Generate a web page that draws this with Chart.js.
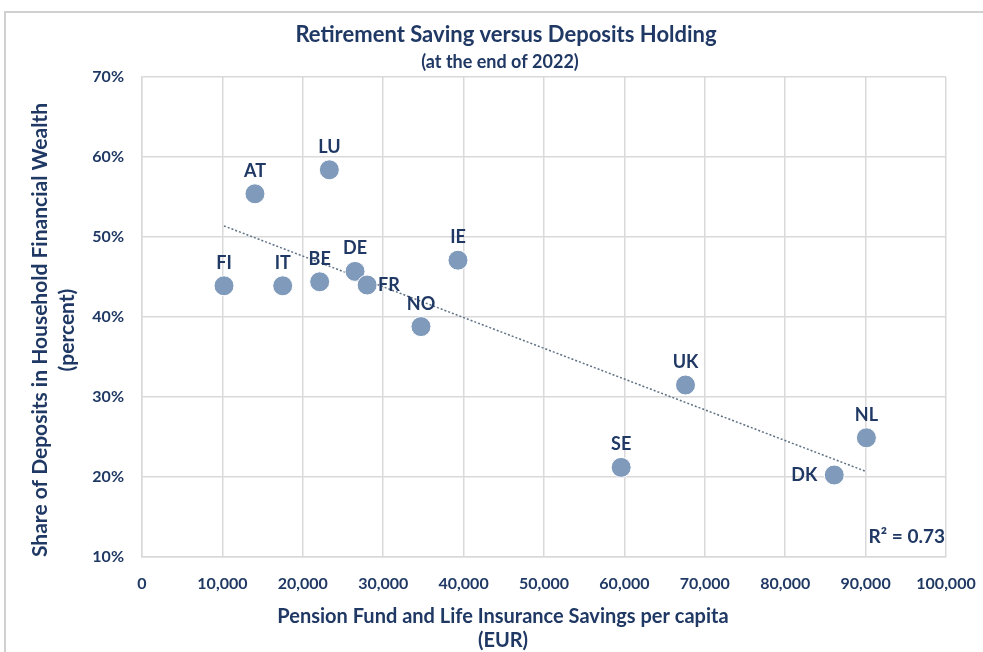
<!DOCTYPE html>
<html>
<head>
<meta charset="utf-8">
<script src="https://cdn.jsdelivr.net/npm/chart.js@4/dist/chart.umd.min.js"></script>
<style>
  html, body { margin: 0; padding: 0; background: #ffffff; }
  #frame { position: absolute; left: 4px; top: 11px; width: 1000px; height: 660px; border-left: 2px solid #d0d0d0; border-top: 2px solid #d0d0d0; box-sizing: border-box; }
  #wrap { position: absolute; left: 0; top: 0; width: 983px; height: 652px; }
</style>
</head>
<body>
<div id="frame"></div>
<div id="wrap"><canvas id="c" width="983" height="652"></canvas></div>
<script>
// ---- data ----
const countries = ["FI", "AT", "IT", "BE", "LU", "DE", "FR", "NO", "IE", "SE", "UK", "DK", "NL"];
const pensionSavings = [10200, 14050, 17500, 22100, 23300, 26500, 28000, 34700, 39300, 59600, 67600, 86100, 90100];
const depositShare = [43.9, 55.4, 43.9, 44.4, 58.4, 45.7, 44.0, 38.8, 47.1, 21.2, 31.5, 20.25, 24.9];
const labelSide = ["top", "top", "top", "top", "top", "top", "right", "top", "top", "top", "top", "left", "top"];
const xTicks = [0, 10000, 20000, 30000, 40000, 50000, 60000, 70000, 80000, 90000, 100000];
const yTicks = [10, 20, 30, 40, 50, 60, 70];
const chartTitle = "Retirement Saving versus Deposits Holding";
const chartSubtitle = "(at the end of 2022)";
const xTitle = ["Pension Fund and Life Insurance Savings per capita", "(EUR)"];
const yTitle = ["Share of Deposits in Household Financial Wealth", "(percent)"];
const rSquaredLabel = "R² = 0.73";

// linear least-squares trend line from the data
const n = pensionSavings.length;
const mx = pensionSavings.reduce((a, b) => a + b, 0) / n;
const my = depositShare.reduce((a, b) => a + b, 0) / n;
let sxy = 0, sxx = 0;
for (let i = 0; i < n; i++) { sxy += (pensionSavings[i] - mx) * (depositShare[i] - my); sxx += (pensionSavings[i] - mx) ** 2; }
const slope = sxy / sxx, intercept = my - slope * mx;
const xMin = Math.min(...pensionSavings), xMax = Math.max(...pensionSavings);
const trend = [{ x: xMin, y: intercept + slope * xMin }, { x: xMax, y: intercept + slope * xMax }];

const NAVY = "#1f3864";
const FONT = "Lato, 'Open Sans', sans-serif";

const labelPlugin = {
  id: "pointLabels",
  afterDatasetsDraw(chart) {
    const ctx = chart.ctx;
    const meta = chart.getDatasetMeta(1);
    ctx.save();
    ctx.fillStyle = NAVY;
    ctx.font = "bold 18px " + FONT;
    meta.data.forEach((pt, i) => {
      const side = labelSide[i];
      if (side === "top") { ctx.textAlign = "center"; ctx.textBaseline = "alphabetic"; ctx.fillText(countries[i], pt.x, pt.y - 17); }
      else if (side === "right") { ctx.textAlign = "left"; ctx.textBaseline = "middle"; ctx.fillText(countries[i], pt.x + 11, pt.y); }
      else { ctx.textAlign = "right"; ctx.textBaseline = "middle"; ctx.fillText(countries[i], pt.x - 17, pt.y); }
    });
    // R squared
    const a = chart.chartArea;
    ctx.textAlign = "right"; ctx.textBaseline = "alphabetic";
    ctx.font = "bold 19px " + FONT;
    ctx.fillText(rSquaredLabel, a.right - 1, a.bottom - 14);
    // chart titles
    ctx.textAlign = "center"; ctx.textBaseline = "middle";
    ctx.font = "bold 22px " + FONT;
    ctx.fillText(chartTitle, 506, 35);
    ctx.font = "bold 18px " + FONT;
    ctx.fillText(chartSubtitle, 500, 62);
    // x axis title
    ctx.font = "bold 20px " + FONT;
    ctx.fillText(xTitle[0], 503, 617);
    ctx.fillText(xTitle[1], 503, 641);
    // y axis title
    ctx.translate(0, 330);
    ctx.rotate(-Math.PI / 2);
    ctx.font = "bold 21px " + FONT;
    ctx.fillText(yTitle[0], 0, 40);
    ctx.fillText(yTitle[1], 0, 67);
    ctx.restore();
  }
};

new Chart(document.getElementById("c"), {
  type: "scatter",
  data: {
    datasets: [
      {
        type: "line",
        data: trend,
        borderColor: "#5f7185",
        borderWidth: 1.5,
        borderDash: [2, 2],
        pointRadius: 0,
        fill: false,
        order: 2
      },
      {
        data: pensionSavings.map((x, i) => ({ x: x, y: depositShare[i] })),
        backgroundColor: "#7f9aba",
        borderColor: "#ffffff",
        borderWidth: 1,
        pointRadius: 10,
        pointHoverRadius: 10,
        order: 1
      }
    ]
  },
  options: {
    responsive: false,
    animation: false,
    events: [],
    layout: { padding: { top: 77, right: 37, left: 0, bottom: 0 } },
    plugins: { legend: { display: false }, tooltip: { enabled: false }, title: { display: false } },
    scales: {
      x: {
        type: "linear",
        min: 0, max: 100000,
        afterBuildTicks: (s) => { s.ticks = xTicks.map(v => ({ value: v })); },
        afterFit: (s) => { s.height = 95; s.paddingLeft = 0; s.paddingRight = 0; },
        grid: { color: "#d9d9d9", lineWidth: 1.5, drawTicks: false },
        border: { color: "#d9d9d9", width: 1.5 },
        ticks: { color: NAVY, font: { family: FONT, size: 16, weight: "bold" }, padding: 17,
                 callback: (v) => v.toLocaleString("en-US") }
      },
      y: {
        type: "linear",
        min: 10, max: 70,
        afterBuildTicks: (s) => { s.ticks = yTicks.map(v => ({ value: v })); },
        afterFit: (s) => { s.width = 142; s.paddingTop = 0; s.paddingBottom = 0; },
        grid: { color: "#d9d9d9", lineWidth: 1.5, drawTicks: false },
        border: { color: "#d9d9d9", width: 1.5 },
        ticks: { color: NAVY, font: { family: FONT, size: 16, weight: "bold" }, padding: 18,
                 callback: (v) => v + "%" }
      }
    }
  },
  plugins: [labelPlugin]
});
</script>
</body>
</html>
